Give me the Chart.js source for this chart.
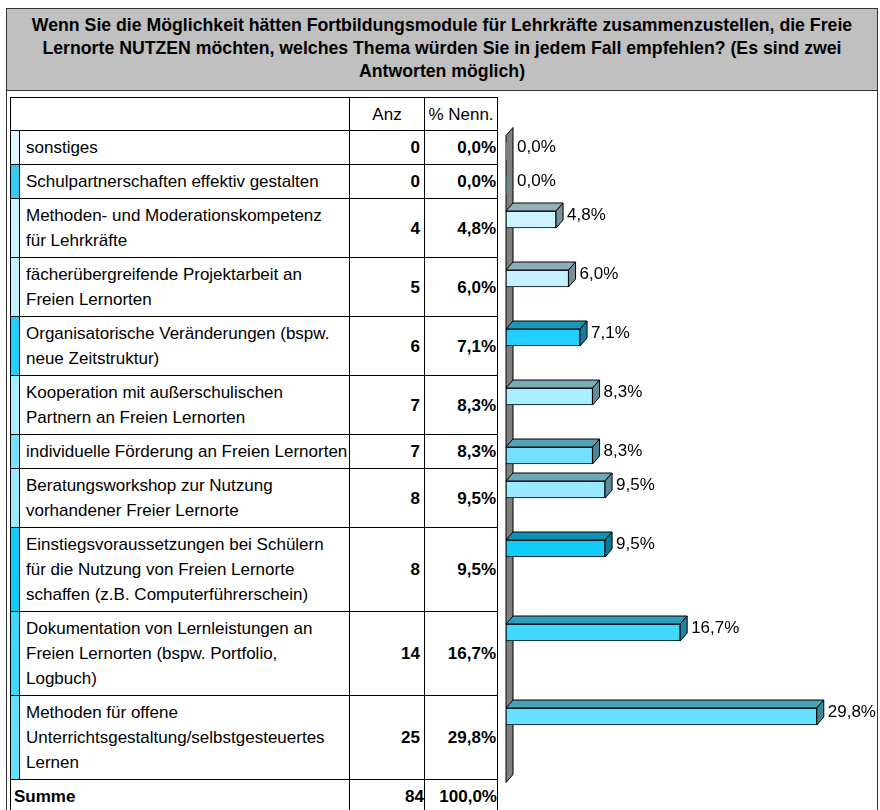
<!DOCTYPE html>
<html>
<head>
<meta charset="utf-8">
<script src="https://cdn.jsdelivr.net/npm/chart.js@4.4.1/dist/chart.umd.min.js"></script>
<style>
  body { margin: 0; background: #fff; width: 880px; height: 810px; overflow: hidden; position: relative;
         font-family: "Liberation Sans", Arial, sans-serif; color: #000; }
  #frame { position: absolute; left: 6px; top: 8px; width: 872px; height: 830px; border: 1px solid #333; box-sizing: border-box; }
  #title { position: absolute; left: 6px; top: 8px; width: 872px; height: 83px; box-sizing: border-box;
           background: #c0c0c0; border: 1px solid #333; text-align: center; font-weight: bold;
           font-size: 17.7px; line-height: 23px; padding-top: 5px; }
  #tbl { position: absolute; left: 10px; top: 97px; border-collapse: collapse; table-layout: fixed; font-size: 17px; }
  #tbl td { border: 1px solid #000; line-height: 25px; padding: 4px 0; vertical-align: middle; white-space: nowrap; }
  #tbl td.lbl { padding-left: 6px; }
  #tbl td.num { text-align: right; font-weight: bold; padding-right: 4px; }
  #tbl td.pct { text-align: right; font-weight: bold; padding-right: 1px; }
  #tbl tr.head td { text-align: center; font-weight: normal; padding: 3.5px 0; line-height: 25px; }
  #tbl tr.sum td { font-weight: bold; padding: 4px 0; }
  #tbl tr.sum td.lbl { padding-left: 3px; }
  #chart { position: absolute; left: 497px; top: 97px; }
</style>
</head>
<body>
<div id="frame"></div>
<div id="title"></div>
<table id="tbl">
  <colgroup><col style="width:9px"><col style="width:330px"><col style="width:75px"><col style="width:73px"></colgroup>
  <tbody></tbody>
</table>
<canvas id="chart" width="380" height="713"></canvas>
<script>
// Titel (Zeilen wie im Original umbrochen)
const titleLines = [
  'Wenn Sie die Möglichkeit hätten Fortbildungsmodule für Lehrkräfte zusammenzustellen, die Freie',
  'Lernorte NUTZEN möchten, welches Thema würden Sie in jedem Fall empfehlen? (Es sind zwei',
  'Antworten möglich)'
];

// Kategorien
const labels = [
  ['sonstiges'],
  ['Schulpartnerschaften effektiv gestalten'],
  ['Methoden- und Moderationskompetenz', 'für Lehrkräfte'],
  ['fächerübergreifende Projektarbeit an', 'Freien Lernorten'],
  ['Organisatorische Veränderungen (bspw.', 'neue Zeitstruktur)'],
  ['Kooperation mit außerschulischen', 'Partnern an Freien Lernorten'],
  ['individuelle Förderung an Freien Lernorten'],
  ['Beratungsworkshop zur Nutzung', 'vorhandener Freier Lernorte'],
  ['Einstiegsvoraussetzungen bei Schülern', 'für die Nutzung von Freien Lernorte', 'schaffen (z.B. Computerführerschein)'],
  ['Dokumentation von Lernleistungen an', 'Freien Lernorten (bspw. Portfolio,', 'Logbuch)'],
  ['Methoden für offene', 'Unterrichtsgestaltung/selbstgesteuertes', 'Lernen']
];

// Anzahl und Prozent der Nennungen
const counts  = [0, 0, 4, 5, 6, 7, 7, 8, 8, 14, 25];
const percent = [0.0, 0.0, 4.8, 6.0, 7.1, 8.3, 8.3, 9.5, 9.5, 16.7, 29.8];
const totalCount = 84;
const totalPercent = 100.0;

// Farben je Zeile
const colors = ['#e0f8ff', '#33ccf0', '#ccf4ff', '#c4f0ff', '#22d0ff', '#aaeeff',
                '#77e0ff', '#99eaff', '#11ccf8', '#40d8ff', '#66e0ff'];

const fmt = v => v.toFixed(1).replace('.', ',') + '%';

function shade(hex, f) {
  const n = parseInt(hex.slice(1), 16);
  const r = (n >> 16) & 255, g = (n >> 8) & 255, b = n & 255;
  return `rgb(${Math.round(r * f)},${Math.round(g * f)},${Math.round(b * f)})`;
}

// Titel
document.getElementById('title').innerHTML = titleLines.join('<br>');

// Tabelle aufbauen
const tbody = document.querySelector('#tbl tbody');
let html = '<tr class="head"><td colspan="2"></td><td>Anz</td><td>% Nenn.</td></tr>';
labels.forEach((lines, i) => {
  html += `<tr class="data"><td style="background:${colors[i]}"></td>` +
          `<td class="lbl">${lines.join('<br>')}</td>` +
          `<td class="num">${counts[i]}</td><td class="pct">${fmt(percent[i])}</td></tr>`;
});
html += `<tr class="sum"><td colspan="2" class="lbl">Summe</td><td class="num">${totalCount}</td>` +
        `<td class="pct">${fmt(totalPercent)}</td></tr>`;
tbody.innerHTML = html;

// Zeilenpositionen relativ zur Zeichenfläche
const canvas = document.getElementById('chart');
const top0 = canvas.getBoundingClientRect().top;
const rows = [...tbody.querySelectorAll('tr.data')];
const rowTop = rows.map(r => r.getBoundingClientRect().top - top0);
const rowBottom = rows.map(r => r.getBoundingClientRect().bottom - top0);
const barPos = rowTop.map(t => t + 21);

const DX = 7, DY = 8;

const bar3d = {
  id: 'bar3d',
  beforeDatasetsDraw(chart) {
    const { ctx, scales: { x, y } } = chart;
    const x0 = x.getPixelForValue(0);
    const yTop = y.getPixelForValue(rowTop[0] + 5);
    const yBot = y.getPixelForValue(rowBottom[rowBottom.length - 1] + 3);
    ctx.save();
    ctx.beginPath();
    ctx.moveTo(x0, yTop);
    ctx.lineTo(x0 + DX, yTop - DY);
    ctx.lineTo(x0 + DX, yBot - DY);
    ctx.lineTo(x0, yBot);
    ctx.closePath();
    ctx.fillStyle = '#808080';
    ctx.fill();
    ctx.strokeStyle = '#000';
    ctx.lineWidth = 1;
    ctx.stroke();
    ctx.restore();
  },
  afterDatasetsDraw(chart) {
    const { ctx } = chart;
    const meta = chart.getDatasetMeta(0);
    ctx.save();
    ctx.lineWidth = 1;
    ctx.strokeStyle = '#000';
    meta.data.forEach((bar, i) => {
      const { x, y, base, height } = bar.getProps(['x', 'y', 'base', 'height'], true);
      const t = y - height / 2, b = y + height / 2;
      if (percent[i] > 0) {
        ctx.beginPath();
        ctx.moveTo(base, t);
        ctx.lineTo(base + DX, t - DY);
        ctx.lineTo(x + DX, t - DY);
        ctx.lineTo(x, t);
        ctx.closePath();
        ctx.fillStyle = shade(colors[i], 0.72);
        ctx.fill();
        ctx.stroke();

        ctx.beginPath();
        ctx.moveTo(x, t);
        ctx.lineTo(x + DX, t - DY);
        ctx.lineTo(x + DX, b - DY);
        ctx.lineTo(x, b);
        ctx.closePath();
        ctx.fillStyle = shade(colors[i], 0.6);
        ctx.fill();
        ctx.stroke();
      }
      ctx.fillStyle = '#000';
      ctx.font = '17px "Liberation Sans", Arial, sans-serif';
      ctx.textBaseline = 'middle';
      ctx.textAlign = 'left';
      ctx.fillText(fmt(percent[i]), x + DX + 4, t + 4);
    });
    ctx.restore();
  }
};

new Chart(canvas.getContext('2d'), {
  type: 'bar',
  data: {
    datasets: [{
      data: percent.map((v, i) => ({ x: v, y: barPos[i] })),
      backgroundColor: colors,
      borderColor: '#000',
      borderWidth: ctx => (percent[ctx.dataIndex] > 0 ? 1 : 0),
      borderSkipped: false,
      barThickness: 17
    }]
  },
  options: {
    indexAxis: 'y',
    responsive: false,
    animation: false,
    devicePixelRatio: 1,
    layout: { padding: { left: 9, right: 6, top: 0, bottom: 0 } },
    scales: {
      x: { type: 'linear', min: 0, max: 35, display: false },
      y: { type: 'linear', min: 0, max: 713, reverse: true, offset: false, display: false }
    },
    plugins: {
      legend: { display: false },
      tooltip: { enabled: false }
    }
  },
  plugins: [bar3d]
});
</script>
</body>
</html>
